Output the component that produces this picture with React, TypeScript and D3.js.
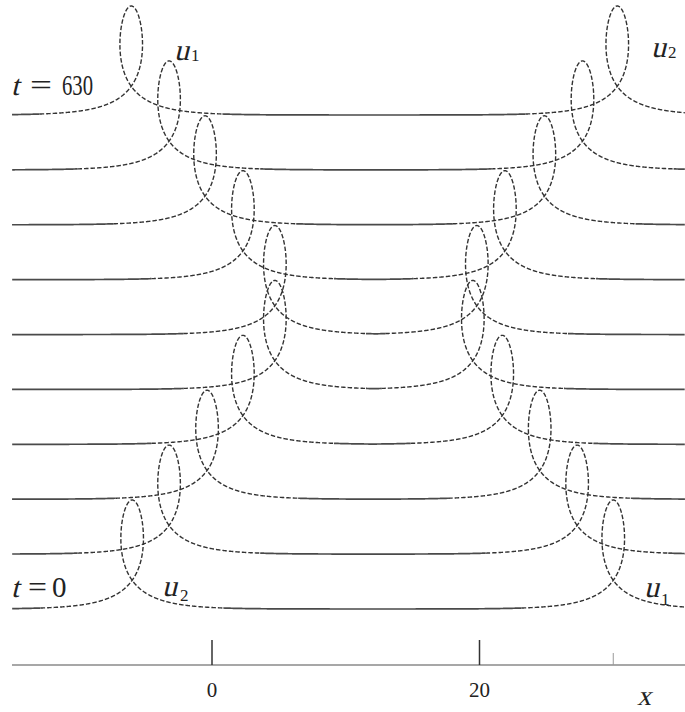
import React from "react";
import * as d3 from "d3";

// Snapshot times (one curve per time, drawn bottom t = 0 to top t = 630)
const times = [0, 70, 140, 210, 280, 350, 420, 490, 560, 630];
// x position of the self-crossing point of each loop, per snapshot
const leftLoopX = [-5.97, -3.21, -0.37, 2.31, 4.7, 4.7, 2.31, -0.52, -3.21, -6.04];
const rightLoopX = [30.0, 27.3, 24.5, 21.7, 19.5, 19.8, 21.9, 24.85, 27.7, 30.3];

// Loop-soliton profile: x = c + s - A tanh(s / w), u = B sech(s / h)
const LOOP_AMP = 2.0;
const LOOP_SHIFT = 4.86;
const LOOP_CORE = 2.99;
const TAIL_DECAY = 2.17;

// Axis
const labeledTicks = [0, 20];
const minorTicks = [30];

const W = 685;
const H = 712;
const SERIF = "Liberation Serif, Times New Roman, serif";

type Pt = [number, number];

function loopPoints(c: number, lo: number, hi: number): Pt[] {
  const pts: Pt[] = [];
  for (let s = -30; s <= 30; s += 0.03) {
    const x = c + s - LOOP_SHIFT * Math.tanh(s / LOOP_CORE);
    if (x < lo || x > hi) continue;
    pts.push([x, LOOP_AMP / Math.cosh(s / TAIL_DECAY)]);
  }
  return pts;
}

// Slanted serif glyph (math-style variable name)
function Slant({ x, y, size, children }: { x: number; y: number; size: number; children: React.ReactNode }) {
  return (
    <text
      transform={`translate(${x},${y}) skewX(-14)`}
      style={{ fontFamily: SERIF }}
      fontSize={size}
      fill="#222"
    >
      {children}
    </text>
  );
}

function Sub({ x, y, size, children }: { x: number; y: number; size: number; children: React.ReactNode }) {
  return (
    <text x={x} y={y} style={{ fontFamily: SERIF }} fontSize={size} fill="#222">
      {children}
    </text>
  );
}

export default function App() {
  const xScale = d3.scaleLinear().domain([0, 20]).range([212, 479.5]);
  const yScale = d3.scaleLinear().domain([0, 630]).range([609, 115]);
  const uScale = d3.scaleLinear().domain([0, 1]).range([0, 54.5]);
  const xLo = xScale.invert(12);
  const xHi = xScale.invert(W);

  const rows = times.map((t, i) => {
    const cL = leftLoopX[i];
    const cR = rightLoopX[i];
    const mid = (cL + cR) / 2;
    const pts = [...loopPoints(cL, xLo, mid), ...loopPoints(cR, mid, xHi)];
    const base = yScale(t);
    const line = d3
      .line<Pt>()
      .x((p) => xScale(p[0]))
      .y((p) => base - uScale(p[1]));
    // split into flat stretches (solid) and raised stretches (dashed)
    const runs: { flat: boolean; pts: Pt[] }[] = [];
    let cur: { flat: boolean; pts: Pt[] } | null = null;
    for (const p of pts) {
      const flat = uScale(p[1]) < 1.0;
      if (!cur || cur.flat !== flat) {
        const prev = cur ? cur.pts[cur.pts.length - 1] : null;
        cur = { flat, pts: prev ? [prev] : [] };
        runs.push(cur);
      }
      cur.pts.push(p);
    }
    return { t, runs: runs.map((r) => ({ flat: r.flat, d: line(r.pts) || "" })) };
  });

  const axisY = 665;
  const serif = { fontFamily: SERIF };

  return (
    <svg
      width={W}
      height={H}
      style={{ position: "absolute", left: 0, top: 0, background: "#fff" }}
    >
      <g fill="none">
        {rows.map((row) =>
          row.runs.map((r, j) => (
            <path
              key={`${row.t}-${j}`}
              d={r.d}
              stroke={r.flat ? "#4a4a4a" : "#333"}
              strokeWidth={r.flat ? 1.7 : 1.4}
              strokeDasharray={r.flat ? undefined : "4.5 2"}
            />
          ))
        )}
      </g>

      {/* x axis */}
      <line x1={12} x2={W} y1={axisY} y2={axisY} stroke="#8a8a8a" strokeWidth={1.5} />
      {labeledTicks.map((v) => (
        <g key={v}>
          <line
            x1={xScale(v)}
            x2={xScale(v)}
            y1={axisY}
            y2={axisY - 25}
            stroke="#333"
            strokeWidth={1.5}
          />
          <text
            x={xScale(v)}
            y={697}
            textAnchor="middle"
            style={serif}
            fontSize={21}
            fill="#222"
          >
            {v}
          </text>
        </g>
      ))}
      {minorTicks.map((v) => (
        <line
          key={v}
          x1={xScale(v)}
          x2={xScale(v)}
          y1={axisY}
          y2={axisY - 12}
          stroke="#999"
          strokeWidth={1}
        />
      ))}
      <Slant x={637} y={705} size={28}>x</Slant>

      {/* time labels */}
      <Slant x={11} y={95} size={29}>t</Slant>
      <g style={serif} fontSize={29} fill="#222">
        <text x={30} y={95} textLength={22} lengthAdjust="spacingAndGlyphs">=</text>
        <text x={62} y={95} textLength={31} lengthAdjust="spacingAndGlyphs">630</text>
        <text x={28} y={597} textLength={19} lengthAdjust="spacingAndGlyphs">=</text>
        <text x={52} y={597}>0</text>
      </g>
      <Slant x={11} y={597} size={29}>t</Slant>

      {/* soliton labels */}
      <Slant x={174} y={60} size={30}>u</Slant>
      <Sub x={191} y={61} size={17}>1</Sub>
      <Slant x={651} y={57} size={30}>u</Slant>
      <Sub x={668} y={58} size={17}>2</Sub>
      <Slant x={162} y={596} size={30}>u</Slant>
      <Sub x={180} y={601} size={17}>2</Sub>
      <Slant x={644} y={597} size={30}>u</Slant>
      <Sub x={661} y={605} size={17}>1</Sub>
    </svg>
  );
}
